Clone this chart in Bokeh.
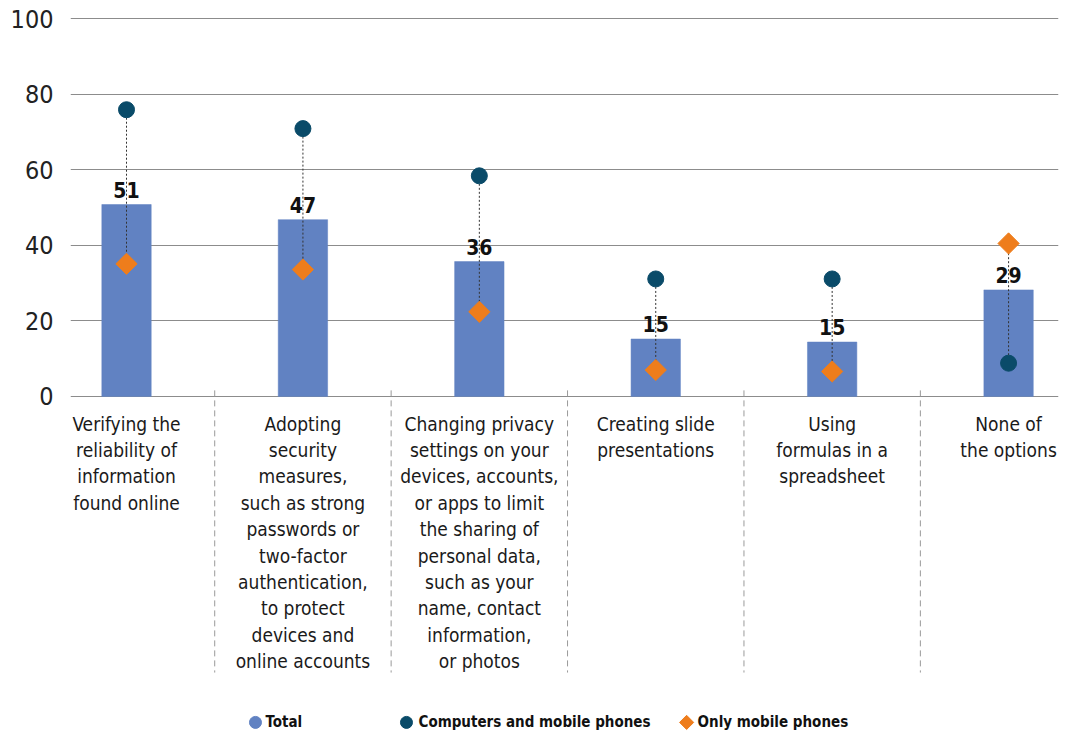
from bokeh.plotting import figure
from bokeh.models import FixedTicker, ColumnDataSource
from bokeh.core.properties import value
from bokeh.embed import file_html
from bokeh.resources import INLINE

# ---- data ----
categories = [
    "Verifying the\nreliability of\ninformation\nfound online",
    "Adopting\nsecurity\nmeasures,\nsuch as strong\npasswords or\ntwo-factor\nauthentication,\nto protect\ndevices and\nonline accounts",
    "Changing privacy\nsettings on your\ndevices, accounts,\nor apps to limit\nthe sharing of\npersonal data,\nsuch as your\nname, contact\ninformation,\nor photos",
    "Creating slide\npresentations",
    "Using\nformulas in a\nspreadsheet",
    "None of\nthe options",
]
total = [50.8, 46.8, 35.7, 15.2, 14.4, 28.2]
total_labels = ["51", "47", "36", "15", "15", "29"]
computers_and_mobile = [75.9, 70.9, 58.4, 31.1, 31.1, 8.8]
only_mobile = [35.1, 33.6, 22.4, 7.0, 6.6, 40.5]
y_ticks = [0, 20, 40, 60, 80, 100]
legend_labels = ["Total", "Computers and mobile phones", "Only mobile phones"]

# ---- styles ----
FONT = "DejaVu Sans Condensed, Roboto Condensed, Roboto"
BAR = "#6182C2"
DARK = "#0A4B69"
ORANGE = "#EE7D1C"

idx = list(range(len(categories)))
src = ColumnDataSource(dict(
    x=idx, total=total, lab=total_labels, comp=computers_and_mobile,
    mob=only_mobile, cat=categories,
))

p = figure(
    frame_width=988, frame_height=726,
    x_range=(-0.3175, 5.283), y_range=(-89.5, 102.7),
    output_backend="svg", toolbar_location=None,
    min_border_left=70, min_border_right=13, min_border_top=8, min_border_bottom=0,
)
p.outline_line_color = None
p.background_fill_color = "white"
p.border_fill_color = "white"
p.xaxis.visible = False
p.xgrid.visible = False

p.yaxis.ticker = FixedTicker(ticks=y_ticks)
p.yaxis.axis_line_color = None
p.yaxis.major_tick_line_color = None
p.yaxis.minor_tick_line_color = None
p.yaxis.major_label_standoff = 11
p.yaxis.major_label_text_font = FONT
p.yaxis.major_label_text_font_size = "25px"
p.yaxis.major_label_text_color = "#222222"
p.ygrid.ticker = FixedTicker(ticks=y_ticks)
p.ygrid.grid_line_color = "#8c8c8c"
p.ygrid.grid_line_width = 1

# bars
p.vbar(x="x", top="total", bottom=0, width=0.28, source=src,
       fill_color=BAR, line_color=BAR, line_width=0.5)

# value labels
p.text(x="x", y="total", text="lab", source=src, text_align="center",
       text_baseline="bottom", y_offset=-7, text_font=value(FONT),
       text_font_size="21px", text_font_style="bold", text_color="#111111")

# connectors
p.segment(x0="x", y0="comp", x1="x", y1="mob", source=src,
          line_color="#333333", line_width=1, line_dash="2 2")

# markers
p.scatter(x="x", y="comp", source=src, marker="circle", size=16,
          fill_color=DARK, line_color=DARK)
p.scatter(x="x", y="mob", source=src, marker="square", angle=0.785398,
          size=15, fill_color=ORANGE, line_color=ORANGE)

# separators
sep_x = [i + 0.5 for i in idx[:-1]]
p.segment(x0=sep_x, y0=[1.6] * len(sep_x), x1=sep_x, y1=[-73.1] * len(sep_x),
          line_color="#9a9a9a", line_width=1, line_dash="6 4")

# category labels
p.text(x="x", y=-4.3, text="cat", source=src, text_align="center",
       text_baseline="top", text_font=value(FONT), text_font_size="19px",
       text_line_height=1.2, text_color="#1a1a1a")

# legend (manual)
leg_y = -86.3
p.scatter(x=[0.731], y=[leg_y], marker="circle", size=12,
          fill_color=BAR, line_color=BAR)
p.scatter(x=[1.587], y=[leg_y], marker="circle", size=12,
          fill_color=DARK, line_color=DARK)
p.scatter(x=[3.175], y=[leg_y], marker="square", angle=0.785398, size=10,
          fill_color=ORANGE, line_color=ORANGE)
p.text(x=[0.788, 1.655, 3.237], y=[leg_y] * 3, text=legend_labels,
       text_align="left", text_baseline="middle", text_font=value(FONT),
       text_font_size="15px", text_font_style="bold", text_color="#111111")

open("out.html", "w").write(file_html(p, INLINE))
